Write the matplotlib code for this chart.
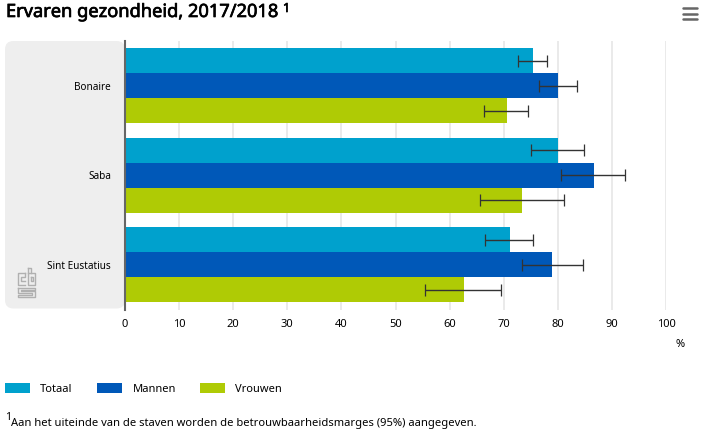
import matplotlib
matplotlib.use('Agg')
import matplotlib.pyplot as plt
import matplotlib.patheffects as pe
from matplotlib.patches import FancyBboxPatch, Rectangle
from matplotlib.lines import Line2D
import numpy as np

# Data
gebieden = ['Bonaire', 'Saba', 'Sint Eustatius']
series = ['Totaal', 'Mannen', 'Vrouwen']
kleuren = ['#00a1cd', '#0058b8', '#afcb05']

totaal = [75.4, 80.0, 71.1]
totaal_laag = [72.7, 75.1, 66.6]
totaal_hoog = [78.0, 84.9, 75.4]

mannen = [80.0, 86.7, 78.9]
mannen_laag = [76.6, 80.6, 73.4]
mannen_hoog = [83.5, 92.4, 84.7]

vrouwen = [70.6, 73.4, 62.6]
vrouwen_laag = [66.4, 65.7, 55.4]
vrouwen_hoog = [74.5, 81.2, 69.5]

xticks = [0, 10, 20, 30, 40, 50, 60, 70, 80, 90, 100]

W, H = 703, 433
plt.rcParams['font.family'] = ['Noto Sans', 'DejaVu Sans']
tekst = '#000000'

fig = plt.figure(figsize=(W / 100, H / 100), dpi=100)


# pixels naar figuurcoordinaten
def fx(x):
    return x / W


def fy(y):
    return 1 - y / H


def lijn(xs, ys, kleur, dikte, **kw):
    fig.add_artist(Line2D([fx(x) for x in xs], [fy(y) for y in ys],
                          color=kleur, lw=dikte, transform=fig.transFigure, **kw))


# grijs vlak achter de labels
fig.add_artist(FancyBboxPatch((fx(5), fy(308.5)), (125 - 5) / W, (308.5 - 41) / H,
                              boxstyle='round,pad=0,rounding_size=0.012',
                              mutation_aspect=W / H, zorder=-1,
                              fc='#eeeeee', ec='none', transform=fig.transFigure))

ax = fig.add_axes([fx(125), fy(309.5), (666 - 125) / W, (309.5 - 41) / H])
ax.patch.set_alpha(0)

y = np.arange(len(gebieden))
hoogte = 0.28
rijen = [(totaal, totaal_laag, totaal_hoog), (mannen, mannen_laag, mannen_hoog),
         (vrouwen, vrouwen_laag, vrouwen_hoog)]
for i, (waarden, laag, hoog) in enumerate(rijen):
    pos = y + (i - 1) * hoogte
    ax.barh(pos, waarden, height=hoogte, color=kleuren[i], zorder=2)
    midden = (np.array(laag) + np.array(hoog)) / 2
    fout = (np.array(hoog) - np.array(laag)) / 2
    ax.errorbar(midden, pos, xerr=fout, fmt='none', ecolor='#333333',
                elinewidth=1.0, capsize=4.5, capthick=0.9, zorder=3)

ax.set_xlim(0, 100)
ax.set_ylim(2.5, -0.5)
ax.set_xticks(xticks)
ax.set_yticks(y)
ax.set_yticklabels(gebieden)
ax.tick_params(axis='x', length=0, labelsize=8, labelcolor=tekst, pad=7)
ax.tick_params(axis='y', length=0, labelsize=7.2, labelcolor=tekst, pad=10)
ax.grid(True, axis='x', color='#e6e6e6', lw=1.2, zorder=1)
ax.set_axisbelow(True)
for kant in ['top', 'right', 'bottom']:
    ax.spines[kant].set_visible(False)
ax.spines['left'].set_color('#666666')
ax.spines['left'].set_linewidth(1.5)
ax.spines['left'].set_zorder(5)

# titel
vet = [pe.withStroke(linewidth=0.5, foreground=tekst)]
fig.text(fx(6), fy(17), 'Ervaren gezondheid, 2017/2018', fontsize=13.15, color=tekst,
         va='baseline', ha='left', path_effects=vet)
fig.text(fx(283), fy(12), '1', fontsize=9, color=tekst, va='baseline', ha='left',
         path_effects=vet)

# eenheid
fig.text(fx(680), fy(347), '%', fontsize=8, color=tekst, ha='center', va='baseline')

# menu-icoon
for ym in [8, 13.5, 18.5]:
    lijn([683, 697], [ym, ym], '#666666', 1.8, solid_capstyle='round')

# legenda
for naam, kleur, x0, xt in zip(series, kleuren, [5, 97, 200], [40, 132.5, 235]):
    fig.add_artist(Rectangle((fx(x0), fy(393)), 25 / W, 10 / H, fc=kleur, ec='none',
                             transform=fig.transFigure))
    fig.text(fx(xt), fy(392), naam, fontsize=8, color=tekst, va='baseline', ha='left')

# voetnoot
fig.text(fx(5), fy(420), '1', fontsize=7.5, color=tekst, va='baseline', ha='left')
fig.text(fx(11), fy(426), 'Aan het uiteinde van de staven worden de betrouwbaarheidsmarges (95%) aangegeven.',
         fontsize=8.05, color=tekst, va='baseline', ha='left')

# cbs-logo
g = '#b0b0b0'
logo = [
    ([25, 18, 18, 25], [273, 273, 285, 285]),
    ([25, 20.5, 20.5, 25, 25], [281, 281, 276.5, 276.5, 273]),
    ([28, 28, 35, 35, 28], [268, 285, 285, 273, 273]),
    ([28, 31, 31], [268, 268, 273]),
    ([30.5, 32.5, 32.5, 30.5, 30.5], [277, 277, 281, 281, 277]),
    ([17.5, 35, 35, 20.5, 20.5, 35, 35, 17.5, 17.5, 32, 32, 17.5, 17.5],
     [287.5, 287.5, 289.5, 289.5, 291, 291, 296.5, 296.5, 294.5, 294.5, 293, 293, 287.5]),
]
for xs, ys in logo:
    lijn(xs, ys, g, 1.0)

fig.savefig('out.png', dpi=100)
